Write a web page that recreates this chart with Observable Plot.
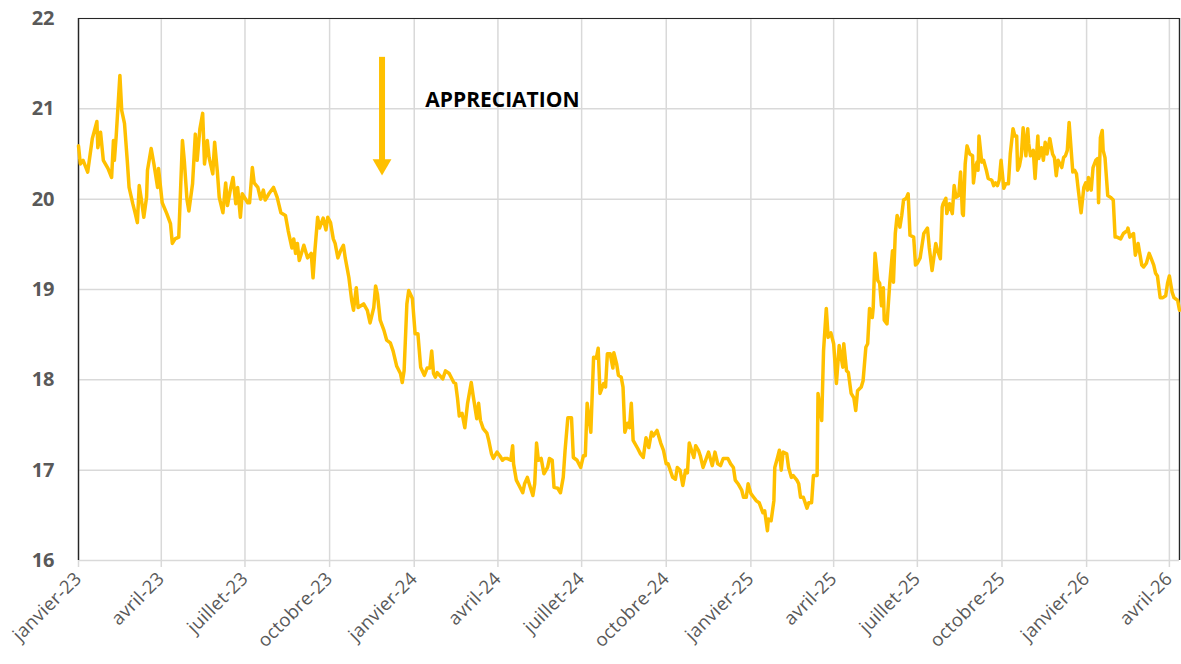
<!DOCTYPE html>
<html>
<head>
<meta charset="utf-8">
<script src="https://cdn.jsdelivr.net/npm/d3@7"></script>
<script src="https://cdn.jsdelivr.net/npm/@observablehq/plot@0.6"></script>
<style>
html, body { margin: 0; padding: 0; background: #fff; }
#chart { width: 1181px; height: 664px; }
#chart g[aria-label="x-axis tick label"] text { letter-spacing: 0.3px; }
</style>
</head>
<body>
<div id="chart"></div>
<script>
// ---- data ----
const startDate = "2023-01-01";          // day 0 of the series
const endDay = 1197;                      // last day shown (~12 April 2026)

// days since startDate
const days = [
  0,2,5,10,15,20,21,24,27,32,36,38,39,41,45,47,50,53,55,59,61,64,66,68,71,74,75,79,82,86,87,91,96,100,102,105,109,113,115,118,120,124,127,129,132,135,137,140,142,146,148,151,153,157,160,162,165,168,171,173,176,178,184,186,189,191,195,198,201,203,207,212,216,
  220,225,228,232,234,236,238,240,245,249,253,255,257,260,262,266,269,271,274,277,279,282,285,288,290,294,297,299,302,304,310,314,317,321,323,325,328,332,335,339,342,346,
  350,352,354,357,359,363,366,369,372,376,379,382,384,386,388,390,396,399,403,408,410,412,414,417,420,423,427,429,433,435,437,440,444,446,449,451,455,458,461,463,466,470,472,473,476,479,483,485,488,490,494,496,498,500,503,506,510,512,515,517,521,524,527,529,532,536,538,542,546,549,551,553,557,560,563,565,567,571,573,575,578,581,582,585,587,590,592,594,597,599,601,603,608,611,614,617,620,623,625,629,633,636,639,641,646,649,651,654,657,660,662,664,669,671,674,
  676,679,685,689,692,695,698,701,706,709,712,714,717,721,723,726,728,731,734,737,740,744,746,749,750,753,756,757,760,762,764,766,770,772,775,777,781,783,785,788,792,794,797,
  799,803,804,808,810,813,815,818,821,824,827,831,832,835,837,840,843,845,847,851,853,856,858,860,863,864,866,869,871,873,875,876,879,882,885,886,888,890,893,895,897,900,902,904,908,910,912,915,919,921,923,
  925,928,932,934,937,939,940,943,944,947,950,952,954,957,959,961,962,964,966,969,972,973,975,977,978,979,982,984,987,989,993,995,997,999,1001,1003,1006,1008,1011,1013,1016,1018,1020,1021,1023,1025,1027,1030,1032,1033,1035,1038,1040,1043,1044,1047,1049,1051,1053,1056,1059,1061,1063,1065,1069,1071,1073,1075,1077,1081,1083,1085,1087,1090,1093,1095,1097,1098,1101,1103,1106,1108,1109,1111,1113,1114,1116,1119,1122,1125,1127,1129,1133,1136,1140,1141,1143,1147,1149,1151,1152,1156,1158,1161,1164,1166,1169,1171,1173,1176,1179,1182,1184,1186,1189,1191,1195,1197
];

const values = [
  20.59,20.39,20.43,20.30,20.67,20.86,20.57,20.74,20.43,20.34,20.24,20.65,20.43,20.70,21.37,20.98,20.84,20.43,20.13,19.95,19.87,19.74,20.15,20.02,19.80,20.02,20.32,20.56,20.39,20.13,20.34,19.96,19.84,19.73,19.51,19.56,19.58,20.65,20.43,19.99,19.87,20.17,20.72,20.43,20.78,20.95,20.39,20.65,20.46,20.28,20.63,20.30,20.02,19.85,20.18,19.93,20.10,20.24,19.95,20.13,19.80,20.06,19.96,19.96,20.35,20.18,20.13,20.00,20.10,19.99,20.06,20.13,20.02,
  19.85,19.82,19.65,19.46,19.56,19.40,19.51,19.32,19.49,19.35,19.40,19.13,19.43,19.80,19.68,19.79,19.66,19.80,19.74,19.56,19.51,19.35,19.43,19.49,19.35,19.13,18.88,18.77,19.02,18.80,18.84,18.77,18.63,18.80,19.04,18.95,18.66,18.55,18.44,18.41,18.32,18.15,
  18.07,17.97,18.10,18.84,18.99,18.90,18.51,18.51,18.14,18.05,18.13,18.13,18.32,18.07,18.03,18.08,18.01,18.10,18.07,17.97,17.96,17.80,17.60,17.63,17.47,17.74,17.97,17.83,17.57,17.74,17.55,17.46,17.41,17.33,17.18,17.13,17.20,17.16,17.11,17.13,17.13,17.11,17.27,17.07,16.89,16.83,16.75,16.85,16.92,16.85,16.72,16.85,17.30,17.11,17.13,16.96,17.03,17.13,17.11,16.81,16.80,16.75,16.92,17.22,17.58,17.58,17.14,17.11,17.03,17.16,17.16,17.74,17.42,18.25,18.24,18.35,17.85,17.96,17.92,18.29,18.29,18.13,18.30,18.18,18.05,18.03,17.92,17.42,17.52,17.47,17.74,17.33,17.24,17.18,17.14,17.36,17.25,17.42,17.38,17.44,17.30,17.22,17.07,17.07,16.92,16.90,17.03,17.00,16.83,17.00,16.97,17.30,17.14,17.27,17.22,
  17.16,17.03,17.20,17.05,17.20,17.07,17.05,17.13,17.13,17.07,17.03,16.89,16.85,16.78,16.70,16.70,16.85,16.74,16.70,16.66,16.64,16.53,16.55,16.33,16.46,16.44,16.66,17.03,17.14,17.22,17.00,17.20,17.18,17.03,16.92,16.94,16.89,16.85,16.70,16.70,16.58,16.64,16.64,
  16.94,16.94,17.85,17.55,18.32,18.79,18.47,18.52,18.40,17.96,18.38,18.14,18.40,18.10,18.08,17.85,17.80,17.66,17.88,17.92,17.99,18.36,18.40,18.79,18.69,18.80,19.40,19.10,19.07,18.82,19.02,18.66,18.62,19.07,19.43,19.08,19.62,19.82,19.69,19.82,19.99,20.01,20.06,19.60,19.58,19.27,19.29,19.35,19.62,19.65,19.68,
  19.46,19.21,19.51,19.43,19.34,19.91,19.95,20.01,19.84,19.95,19.84,20.15,20.02,20.04,20.30,19.84,19.82,20.39,20.59,20.50,20.48,20.18,20.35,20.41,20.32,20.70,20.41,20.43,20.32,20.23,20.21,20.15,20.18,20.15,20.21,20.43,20.12,20.17,20.17,20.50,20.78,20.70,20.70,20.32,20.37,20.48,20.79,20.48,20.78,20.62,20.48,20.54,20.23,20.70,20.45,20.57,20.43,20.63,20.50,20.67,20.50,20.46,20.26,20.43,20.35,20.46,20.48,20.54,20.85,20.30,20.32,20.28,20.10,19.85,20.13,20.18,20.10,20.24,20.10,20.35,20.43,20.45,19.96,20.68,20.76,20.54,20.46,20.04,20.02,19.99,19.58,19.58,19.56,19.62,19.65,19.68,19.58,19.62,19.38,19.47,19.51,19.27,19.25,19.29,19.40,19.35,19.27,19.18,19.15,18.91,18.91,18.93,19.07,19.15,18.97,18.91,18.88,18.77
];

const tickDates = ["2023-01-01","2023-04-01","2023-07-01","2023-10-01","2024-01-01","2024-04-01","2024-07-01","2024-10-01","2025-01-01","2025-04-01","2025-07-01","2025-10-01","2026-01-01","2026-04-01"];
const tickLabels = ["janvier-23","avril-23","juillet-23","octobre-23","janvier-24","avril-24","juillet-24","octobre-24","janvier-25","avril-25","juillet-25","octobre-25","janvier-26","avril-26"];
const yTicks = [16, 17, 18, 19, 20, 21, 22];

// annotation
const annotationText = "APPRECIATION";
const annotationDay = 377;
const annotationValue = 21.10;
const arrowDay = 330;
const arrowTop = 21.57;
const arrowShaftEnd = 20.40;
const arrowTip = 20.26;

// ---- build ----
const base = new Date(startDate + "T00:00:00Z");
const toDate = d => new Date(base.getTime() + d * 864e5);
const series = days.map((d, i) => ({date: toDate(d), value: values[i]})).filter(d => d.value != null);
const ticks = tickDates.map(s => new Date(s + "T00:00:00Z"));
const labelOf = new Map(ticks.map((t, i) => [+t, tickLabels[i]]));
const endDate = toDate(endDay);
const arrowDate = toDate(arrowDay);

const gold = "#FFC000";
const grid = "#d9d9d9";
const frame = "#262626";

const chart = Plot.plot({
  width: 1181,
  height: 664,
  marginLeft: 78,
  marginRight: 2,
  marginTop: 18,
  marginBottom: 104,
  style: {fontFamily: "'Open Sans', sans-serif", background: "#ffffff", overflow: "visible"},
  x: {type: "utc", domain: [base, endDate]},
  y: {domain: [16, 22]},
  marks: [
    Plot.ruleY(yTicks, {stroke: grid, strokeWidth: 1.5}),
    Plot.ruleX(ticks, {stroke: grid, strokeWidth: 1.5}),
    Plot.ruleY([22], {stroke: frame, strokeWidth: 1.2}),
    Plot.ruleX([base, endDate], {stroke: frame, strokeWidth: 1.4}),
    Plot.axisY(yTicks, {
      tickSize: 0, tickPadding: 24, fontSize: 20, fontWeight: "bold",
      tickFormat: d => String(d), fill: "#595959", label: null
    }),
    Plot.axisX(ticks, {
      tickFormat: d => labelOf.get(+d), tickRotate: -45, tickSize: 7,
      tickPadding: 8, stroke: grid, strokeWidth: 1.5, fill: "#595959", fontSize: 18.5, label: null
    }),
    Plot.line(series, {x: "date", y: "value", stroke: gold, strokeWidth: 3.5, strokeLinejoin: "round"}),
    Plot.ruleX([arrowDate], {y1: arrowTop, y2: arrowShaftEnd, stroke: gold, strokeWidth: 6}),
    Plot.dot([arrowDate], {x: d => d, y: arrowTip, symbol: "triangle", r: 7, rotate: 180, fill: gold, stroke: null, dy: -11}),
    Plot.text([annotationText], {x: toDate(annotationDay), y: annotationValue, text: d => d, textAnchor: "start", fontSize: 21, fontWeight: "bold", fill: "#000"})
  ]
});

document.getElementById("chart").appendChild(chart);
</script>
</body>
</html>
